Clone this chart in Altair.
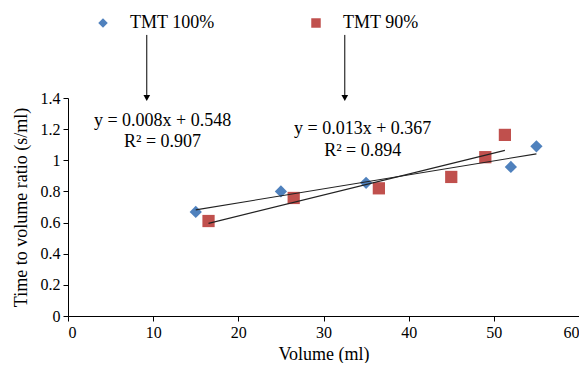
import altair as alt
import pandas as pd

# data
vol_100 = [15, 25, 35, 52, 55]
ratio_100 = [0.668, 0.80, 0.855, 0.957, 1.09]
vol_90 = [16.5, 26.5, 36.5, 45, 49, 51.3]
ratio_90 = [0.61, 0.758, 0.82, 0.893, 1.02, 1.163]
series = ["TMT 100%", "TMT 90%"]
colors = ["#4F81BD", "#C0504D"]
shapes = ["diamond", "square"]
x_ticks = [0, 10, 20, 30, 40, 50, 60]
y_ticks = [0, 0.2, 0.4, 0.6, 0.8, 1.0, 1.2, 1.4]

eq_text = ["y = 0.008x + 0.548", "y = 0.013x + 0.367"]
r2_text = ["R² = 0.907", "R² = 0.894"]
eq_x = [11.1, 34.6]
eq_y = [1.25, 1.20]
r2_y = [1.115, 1.06]
arrow_x = [9.25, 32.5]
arrow_top = [1.805, 1.805]
arrow_tip = [1.40, 1.40]

FONT = "Liberation Serif"

df = pd.DataFrame(
    {"Volume": vol_100 + vol_90,
     "Ratio": ratio_100 + ratio_90,
     "Series": [series[0]] * len(vol_100) + [series[1]] * len(vol_90)}
)

ann = pd.DataFrame({"eq": eq_text, "r2": r2_text, "x": eq_x, "y": eq_y, "y2": r2_y})
arr = pd.DataFrame({"x": arrow_x, "top": arrow_top, "tip": arrow_tip})

xscale = alt.Scale(domain=[0, 60])
yscale = alt.Scale(domain=[0, 1.4])
xaxis = alt.Axis(values=x_ticks, title="Volume (ml)", grid=False, labelOverlap=False)
yaxis = alt.Axis(values=y_ticks, format=".1~f", title="Time to volume ratio (s/ml)",
                 grid=False, labelOverlap=False)


def X(f):
    return alt.X(f, scale=xscale, axis=xaxis)


def Y(f):
    return alt.Y(f, scale=yscale, axis=yaxis)


base = alt.Chart(df)

points = base.mark_point(filled=True, size=150, opacity=1).encode(
    x=X("Volume:Q"),
    y=Y("Ratio:Q"),
    color=alt.Color("Series:N", scale=alt.Scale(domain=series, range=colors),
                    legend=alt.Legend(title=None, orient="none", direction="horizontal",
                                      legendX=26, legendY=-84, symbolSize=90,
                                      symbolStrokeWidth=0, labelOffset=18,
                                      columnPadding=92, labelFontSize=18,
                                      labelFont=FONT, labelColor="#000")),
    shape=alt.Shape("Series:N", scale=alt.Scale(domain=series, range=shapes)),
)

trend = base.transform_regression("Volume", "Ratio", groupby=["Series"]).mark_line(
    color="#222", strokeWidth=1.1
).encode(x=X("Volume:Q"), y=Y("Ratio:Q"), detail="Series:N")

eq = alt.Chart(ann).mark_text(font=FONT, fontSize=18, color="#000").encode(
    x=X("x:Q"), y=Y("y:Q"), text="eq:N")
r2 = alt.Chart(ann).mark_text(font=FONT, fontSize=18, color="#000").encode(
    x=X("x:Q"), y=Y("y2:Q"), text="r2:N")

arrow_line = alt.Chart(arr).mark_rule(color="#000", strokeWidth=1).encode(
    x=X("x:Q"), y=Y("top:Q"), y2="tip:Q")
arrow_head = alt.Chart(arr).mark_point(shape="triangle-down", filled=True, size=45,
                                       color="#000", opacity=1).encode(
    x=X("x:Q"), y=Y("tip:Q"))

chart = alt.layer(points, trend, eq, r2, arrow_line, arrow_head).properties(
    width=511, height=218,
    autosize=alt.AutoSizeParams(type="none"),
    padding={"left": 60, "top": 90, "right": 0, "bottom": 47},
).configure_view(stroke=None).configure_axis(
    labelFont=FONT, titleFont=FONT, labelFontSize=16, titleFontSize=18,
    labelColor="#000", titleColor="#000", domainColor="#000", tickColor="#000",
    titleFontWeight="normal", tickSize=5, labelPadding=3,
).configure_axisX(titlePadding=5).configure_axisY(titlePadding=10)

chart.save("out.html", embed_options={"renderer": "svg", "actions": False})
